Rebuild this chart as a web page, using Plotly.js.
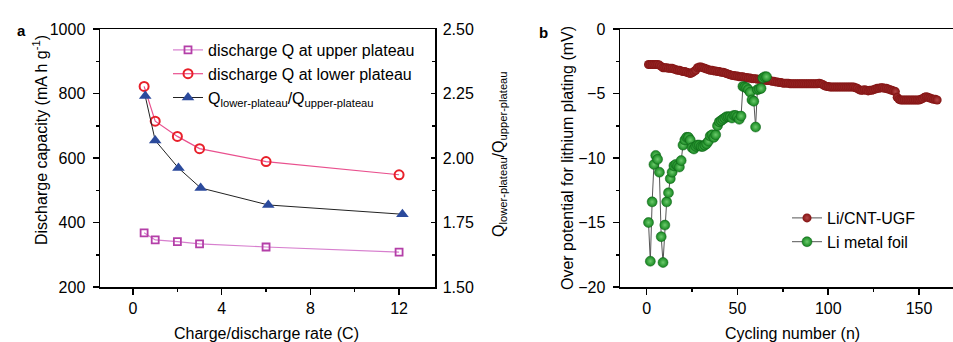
<!DOCTYPE html>
<html>
<head>
<meta charset="utf-8">
<script src="https://cdn.plot.ly/plotly-3.0.1.min.js"></script>
<style>
html,body{margin:0;padding:0;overflow:hidden;background:#fff;}
#chart{width:966px;height:342px;}
</style>
</head>
<body>
<div id="chart"></div>
<script>
// Panel a data
const rateC = [0.5, 1, 2, 3, 6, 12];
const qUpper = [368, 346, 341, 334, 324, 308];
const qLower = [822, 714, 667, 629, 589, 548];
const ratioRate = [0.55, 1.0, 2.05, 3.05, 6.1, 12.15];
const ratioQ = [2.24, 2.068, 1.961, 1.884, 1.818, 1.782];

// Panel b data
const cntOverpotential = [
 -2.75,-2.75,-2.75,-2.75,-2.75,-2.75,-2.8,
 -2.9,-3.0,-3.0,-3.0,-3.05,-3.05,-3.05,
 -3.1,-3.15,-3.2,-3.2,-3.25,-3.3,-3.3,-3.35,-3.4,
 -3.45,-3.4,-3.3,-3.2,-3.0,
 -2.95,-2.95,-3.0,-3.05,-3.1,-3.15,
 -3.2,-3.2,-3.25,-3.25,-3.3,-3.3,-3.35,-3.35,-3.4,-3.45,
 -3.5,-3.55,-3.6,-3.6,-3.65,-3.65,-3.7,-3.7,-3.7,-3.75,-3.75,
 -3.8,-3.8,-3.85,-3.85,-3.85,-3.9,-3.9,-3.9,-3.95,-3.95,-4.0,-4.0,-4.0,-4.05,-4.05,
 -4.1,-4.1,-4.15,-4.15,-4.2,-4.2,-4.2,-4.2,
 -4.25,-4.25,-4.25,-4.25,-4.25,-4.25,-4.25,-4.25,-4.25,-4.25,-4.25,-4.25,-4.25,-4.25,-4.25,-4.25,
 -4.2,-4.25,-4.3,
 -4.4,-4.45,-4.45,
 -4.5,-4.5,-4.5,-4.5,-4.5,-4.5,-4.5,-4.5,-4.5,-4.5,-4.5,-4.5,-4.5,-4.5,
 -4.55,-4.6,
 -4.7,-4.75,-4.75,-4.7,-4.75,-4.8,-4.75,-4.75,-4.7,-4.65,
 -4.6,-4.6,-4.55,-4.55,-4.6,-4.6,-4.65,-4.7,-4.75,-4.8,-4.85,
 -5.3,-5.45,-5.5,-5.5,-5.5,-5.5,-5.5,-5.5,-5.5,-5.5,-5.5,-5.5,-5.5,-5.45,-5.4,
 -5.3,-5.25,-5.3,-5.35,-5.4,-5.45,-5.45,-5.5
];
const foilOverpotential = [
 -15.0,-18.0,-13.4,-10.5,-9.8,-10.1,-11.1,-16.1,-18.1,-15.2,
 -13.4,-12.7,-11.6,-11.1,-10.6,-10.5,-10.6,-10.7,-10.2,-9.0,
 -8.6,-8.4,-8.4,-8.6,-9.2,-9.3,-9.1,-9.0,-9.0,-9.1,
 -9.1,-9.0,-8.9,-8.7,-8.3,-8.2,-8.4,-8.2,-7.5,-7.2,
 -7.1,-7.0,-6.9,-6.8,-6.8,-6.8,-6.9,-6.7,-6.7,-6.8,
 -7.0,-6.75,-4.45,-4.5,-4.55,-4.7,-4.9,-5.5,-5.6,-7.6,
 -4.7,-4.65,-4.6,-3.8,-3.7,-3.7
];
const cntCycles = cntOverpotential.map((v, i) => i + 1);
const foilCycles = foilOverpotential.map((v, i) => i + 1);

const W = 966, H = 342;
const px = v => v / W;
const py = v => 1 - v / H;
const FONT = 'Liberation Sans, Arial, Helvetica, sans-serif';
const yDom = [py(287), py(29)];

const traces = [
  {x: rateC, y: qUpper, name: 'discharge Q at upper plateau', type: 'scatter', mode: 'lines+markers',
   xaxis: 'x', yaxis: 'y', legend: 'legend',
   line: {color: '#D77FCE', width: 1.2},
   marker: {symbol: 'square-open', size: 7, color: '#B43FA8', line: {width: 1.8}}},
  {x: rateC, y: qLower, name: 'discharge Q at lower plateau', type: 'scatter', mode: 'lines+markers',
   xaxis: 'x', yaxis: 'y', legend: 'legend',
   line: {color: '#E9508E', width: 1.2},
   marker: {symbol: 'circle-open', size: 9, color: '#E8202A', line: {width: 2}}},
  {x: ratioRate, y: ratioQ, name: 'Q<sub>lower-plateau</sub>/Q<sub>upper-plateau</sub>', type: 'scatter', mode: 'lines+markers',
   xaxis: 'x', yaxis: 'y2', legend: 'legend',
   line: {color: '#222222', width: 1},
   marker: {symbol: 'triangle-up', size: 11, color: '#2B4A9C'}},
  {x: cntCycles, y: cntOverpotential, name: 'Li/CNT-UGF', type: 'scatter', mode: 'lines+markers',
   xaxis: 'x3', yaxis: 'y3', legend: 'legend2',
   line: {color: '#555555', width: 1},
   marker: {symbol: 'circle', size: 9, color: '#831212', gradient: {type: 'radial', color: '#B34545'}, line: {width: 0}}},
  {x: foilCycles, y: foilOverpotential, name: 'Li metal foil', type: 'scatter', mode: 'lines+markers',
   xaxis: 'x3', yaxis: 'y3', legend: 'legend2',
   line: {color: '#555555', width: 1},
   marker: {symbol: 'circle', size: 10, color: '#15861F', gradient: {type: 'radial', color: '#6CCB6C'}, line: {width: 0.5, color: '#0E5E18'}}}
];

const axCommon = {
  showgrid: false, zeroline: false, showline: true, linecolor: '#000', linewidth: 1.5,
  ticks: 'outside', ticklen: 6, tickwidth: 1.5, tickcolor: '#000',
  tickfont: {family: FONT, size: 16, color: '#000'}
};

const layout = {
  width: W, height: H,
  margin: {l: 0, r: 0, t: 0, b: 0},
  paper_bgcolor: '#fff', plot_bgcolor: 'rgba(0,0,0,0)',
  font: {family: FONT, size: 16, color: '#000'},
  showlegend: true,
  xaxis: Object.assign({}, axCommon, {domain: [px(100), px(435)], range: [-1.49, 13.62], anchor: 'y',
    tick0: 0, dtick: 4, mirror: true,
    minor: {dtick: 2, ticks: 'outside', ticklen: 3, tickwidth: 1.5, tickcolor: '#000'}}),
  yaxis: Object.assign({}, axCommon, {domain: yDom, range: [200, 1000], anchor: 'x',
    dtick: 200, ticklabelstandoff: 4,
    minor: {dtick: 100, ticks: 'outside', ticklen: 3, tickwidth: 1.5, tickcolor: '#000'}}),
  yaxis2: Object.assign({}, axCommon, {overlaying: 'y', side: 'right', anchor: 'x', range: [1.5, 2.5],
    dtick: 0.25, tickformat: '.2f', ticks: 'inside', ticklen: 4, ticklabelstandoff: 3,
    minor: {dtick: 0.125, ticks: 'inside', ticklen: 3, tickwidth: 1.5, tickcolor: '#000'}}),
  xaxis3: Object.assign({}, axCommon, {domain: [px(620), px(964)], range: [-14.7, 174.8], anchor: 'y3',
    dtick: 50, tick0: 0, mirror: true,
    minor: {dtick: 25, ticks: 'outside', ticklen: 3, tickwidth: 1.5, tickcolor: '#000'}}),
  yaxis3: Object.assign({}, axCommon, {domain: yDom, range: [-20, 0], anchor: 'x3',
    dtick: 5, mirror: true, ticklabelstandoff: 4,
    minor: {dtick: 2.5, ticks: 'outside', ticklen: 3, tickwidth: 1.5, tickcolor: '#000'}}),
  legend: {x: px(168), y: py(33), xanchor: 'left', yanchor: 'top', bgcolor: 'rgba(0,0,0,0)',
    font: {family: FONT, size: 16, color: '#000'}, tracegroupgap: 0, itemwidth: 30},
  legend2: {x: px(787), y: py(201), xanchor: 'left', yanchor: 'top', bgcolor: 'rgba(0,0,0,0)',
    font: {family: FONT, size: 16, color: '#000'}, tracegroupgap: 0, itemwidth: 30},
  annotations: [
    {text: '<b>a</b>', x: px(15), y: py(20), xref: 'paper', yref: 'paper', showarrow: false, font: {size: 15}},
    {text: '<b>b</b>', x: px(543), y: py(22), xref: 'paper', yref: 'paper', showarrow: false, font: {size: 15}},
    {text: 'Discharge capacity (mA h g<sup>-1</sup>)', textangle: -90, x: px(40), y: py(140), xref: 'paper', yref: 'paper',
     showarrow: false, xanchor: 'center', yanchor: 'middle', font: {size: 16}},
    {text: 'Q<sub>lower-plateau</sub>/Q<sub>upper-plateau</sub>', textangle: -90, x: px(500), y: py(154), xref: 'paper', yref: 'paper',
     showarrow: false, xanchor: 'center', yanchor: 'middle', font: {size: 16}},
    {text: 'Over potential for lithium plating (mV)', textangle: -90, x: px(567), y: py(158), xref: 'paper', yref: 'paper',
     showarrow: false, xanchor: 'center', yanchor: 'middle', font: {size: 16}},
    {text: 'Charge/discharge rate (C)', x: px(266), y: py(333), xref: 'paper', yref: 'paper',
     showarrow: false, xanchor: 'center', yanchor: 'middle', font: {size: 16}},
    {text: 'Cycling number (n)', x: px(792), y: py(333), xref: 'paper', yref: 'paper',
     showarrow: false, xanchor: 'center', yanchor: 'middle', font: {size: 16}}
  ]
};

Plotly.newPlot('chart', traces, layout, {displayModeBar: false, staticPlot: true});
</script>
</body>
</html>
